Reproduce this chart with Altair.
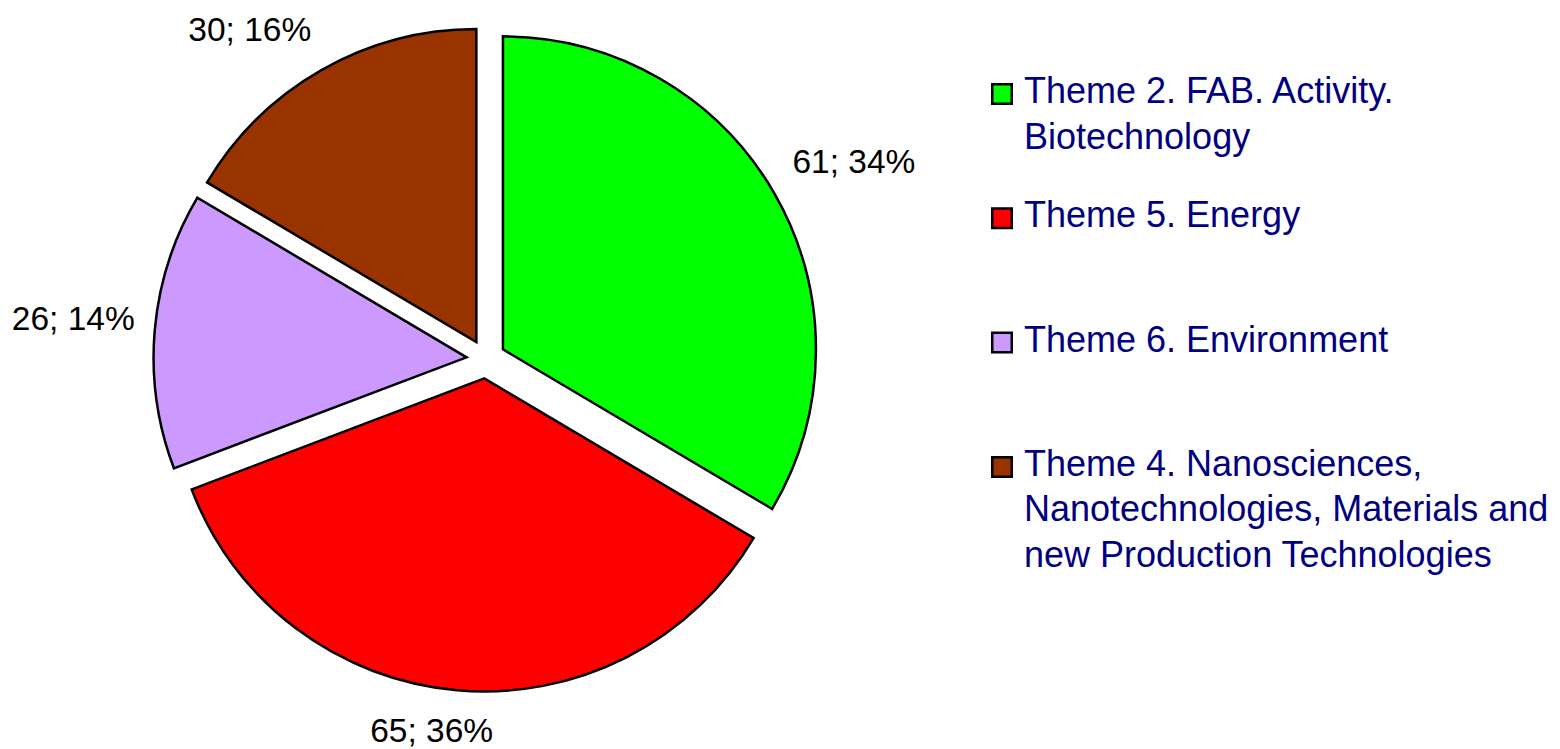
import altair as alt
import pandas as pd

# ---- data ----
themes = [
    "Theme 2. FAB. Activity.\nBiotechnology",
    "Theme 5. Energy",
    "Theme 6. Environment",
    "Theme 4. Nanosciences,\nNanotechnologies, Materials and\nnew Production Technologies",
]
values = [61, 65, 26, 30]
colors = ["#00FF00", "#FF0000", "#CC99FF", "#993300"]

total = sum(values)
labels = [f"{v}; {round(v / total * 100 + 1e-9)}%" for v in values]

df = pd.DataFrame({
    "order": list(range(len(themes))),
    "theme": themes,
    "value": values,
    "label": labels,
})

# ---- layout parameters ----
W, H = 1544, 741
CX, CY = 478, 351      # pie centre
D = 19.5               # explode distance
R = 313                # pie radius
LR = 352               # label anchor radius
LW2, LH2, LK = 62, 22, 4.5   # half label box, direction sharpness
LEG_SQ_X, LEG_TX_X = 994, 1016
LEG_Y0, LEG_STEP = 86, 124.3

color_scale = alt.Scale(domain=themes, range=colors)

base = (
    alt.Chart(df)
    .transform_joinaggregate(total="sum(value)")
    .transform_window(cum="sum(value)", sort=[alt.SortField("order")], frame=[None, 0])
    .transform_calculate(
        t1="2*PI*datum.cum/datum.total",
        t0="2*PI*(datum.cum-datum.value)/datum.total",
    )
    .transform_calculate(mid="(datum.t0+datum.t1)/2")
    .transform_calculate(
        px=f"{CX}+{D}*sin(datum.mid)",
        py=f"{CY}-{D}*cos(datum.mid)",
        lx=f"{CX}+{LR}*sin(datum.mid)+{LW2}*clamp({LK}*sin(datum.mid),-1,1)",
        ly=f"{CY}-{LR}*cos(datum.mid)-{LH2}*clamp({LK}*cos(datum.mid),-1,1)",
    )
)

arcs = base.mark_arc(radius=R, stroke="black", strokeWidth=2.5, strokeJoin="miter").encode(
    theta=alt.Theta("t0:Q", scale=None),
    theta2=alt.Theta2("t1:Q"),
    x=alt.X("px:Q", scale=None, axis=None),
    y=alt.Y("py:Q", scale=None, axis=None),
    fill=alt.Fill("theme:N", scale=color_scale, legend=None),
)

pie_labels = base.mark_text(
    font="Liberation Sans", fontSize=33.5, color="black", align="center", baseline="middle"
).encode(
    x=alt.X("lx:Q", scale=None, axis=None),
    y=alt.Y("ly:Q", scale=None, axis=None),
    text="label:N",
)

leg = alt.Chart(df).transform_calculate(
    sy=f"{LEG_Y0}+datum.order*{LEG_STEP}",
    ty=f"{LEG_Y0 + 9}+datum.order*{LEG_STEP}",
    sx=f"{LEG_SQ_X}",
    tx=f"{LEG_TX_X}",
)

leg_sq = leg.mark_point(shape="square", filled=True, size=380, stroke="black", strokeWidth=2.5, opacity=1).encode(
    x=alt.X("sx:Q", scale=None, axis=None),
    y=alt.Y("sy:Q", scale=None, axis=None),
    fill=alt.Fill("theme:N", scale=color_scale, legend=None),
)

leg_tx = leg.mark_text(
    font="Liberation Sans", fontSize=36, color="#000080", align="left",
    baseline="alphabetic", lineBreak="\n", lineHeight=45.5,
).encode(
    x=alt.X("tx:Q", scale=None, axis=None),
    y=alt.Y("ty:Q", scale=None, axis=None),
    text="theme:N",
)

chart = (
    alt.layer(arcs, pie_labels, leg_sq, leg_tx)
    .properties(width=W, height=H, autosize=alt.AutoSizeParams(type="none"), padding=0)
    .configure_view(stroke=None)
)

chart.save("out.html", embed_options={"renderer": "svg", "actions": False})
